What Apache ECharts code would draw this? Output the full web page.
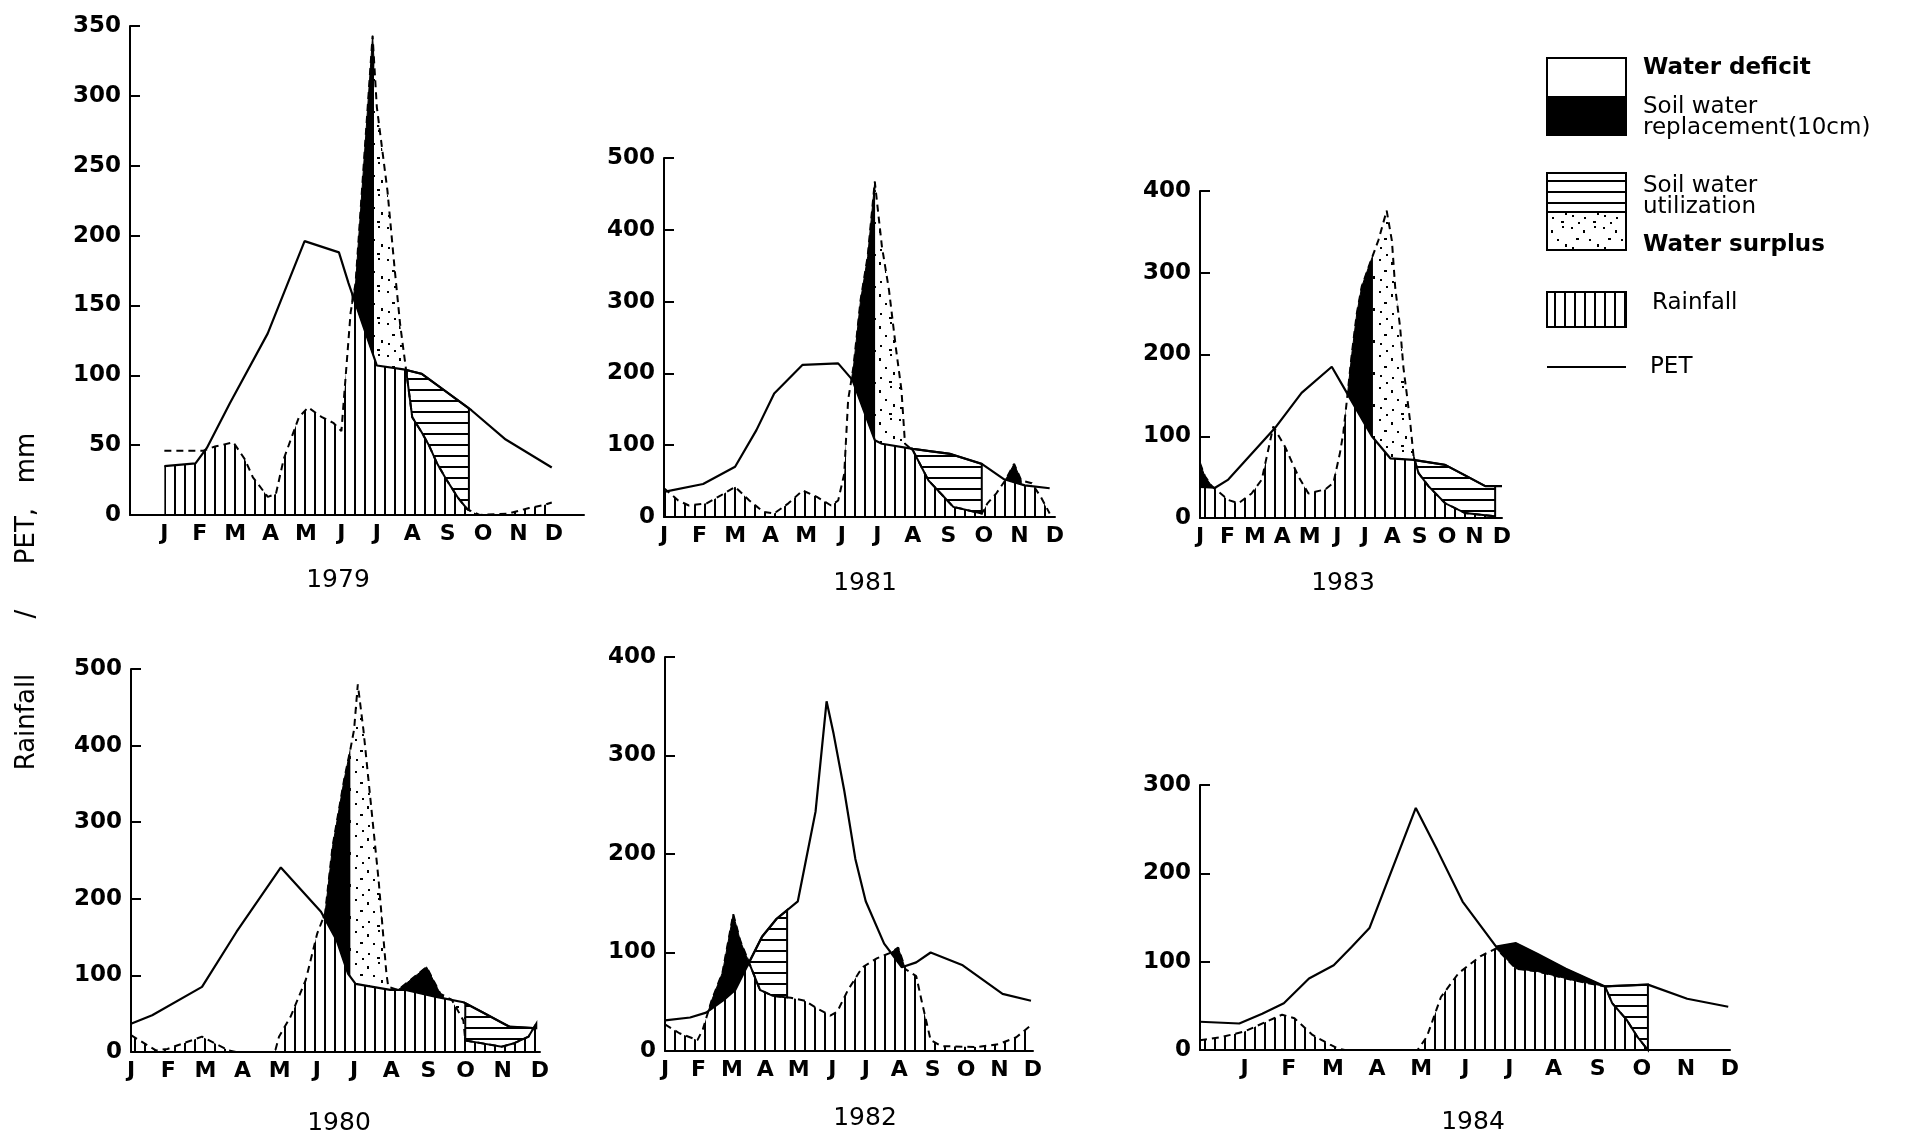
<!DOCTYPE html>
<html>
<head>
<meta charset="utf-8">
<script src="https://cdn.jsdelivr.net/npm/echarts@6/dist/echarts.min.js"></script>
<style>
  html, body { margin: 0; padding: 0; background: #fff; }
  #chart { width: 1920px; height: 1140px; }
</style>
</head>
<body>
<div id="chart"></div>
<script>
// Month tick labels (x = month index, J = 0 ... D = 11)
const monthLabels = ['J', 'F', 'M', 'A', 'M', 'J', 'J', 'A', 'S', 'O', 'N', 'D'];
const monthTicks = [0, 1, 2, 3, 4, 5, 6, 7, 8, 9, 10, 11];

// ---- 1979 ----
const pet1979 = [[0, 35], [0.88, 37], [1.2, 48], [1.85, 80], [2.92, 130], [3.96, 196], [4.93, 188], [5.2, 166], [6.0, 107], [6.8, 104], [7.27, 101], [8.67, 75], [9.64, 54], [10.94, 34]];
const rain1979 = [[0, 46], [1.1, 46], [1.43, 49], [1.95, 52], [2.27, 40], [2.5, 27], [2.92, 13], [3.15, 15], [3.37, 40], [3.8, 70], [4.06, 77], [4.45, 70], [4.77, 66], [5.0, 60], [5.26, 145], [5.4, 166], [5.88, 343], [6.0, 292], [6.3, 232], [6.5, 177], [6.66, 136], [6.82, 105], [7.0, 70], [7.27, 59], [7.47, 50], [7.7, 37], [7.95, 26], [8.3, 12], [8.56, 4], [8.9, 0], [9.7, 1], [10.3, 5], [10.7, 7], [10.94, 9]];
const phases1979 = [['replacement', 5.3, 5.92], ['surplus', 5.92, 6.85], ['utilization', 6.85, 8.6]];

// ---- 1981 ----
const pet1981 = [[0, 35], [1.1, 46], [2.0, 70], [2.6, 121], [3.1, 172], [3.9, 212], [4.9, 214], [5.3, 191], [5.93, 107], [6.13, 102], [7.0, 95], [8.04, 88], [8.94, 74], [9.55, 53], [10.15, 44], [10.85, 40]];
const rain1981 = [[0, 40], [0.4, 23], [0.7, 16], [1.2, 19], [1.6, 30], [2.0, 42], [2.4, 23], [2.8, 7], [3.1, 5], [3.5, 19], [3.9, 37], [4.3, 28], [4.7, 16], [4.9, 23], [5.07, 60], [5.18, 163], [5.33, 209], [5.53, 302], [5.73, 363], [5.93, 467], [6.13, 377], [6.33, 316], [6.53, 233], [6.68, 177], [6.78, 102], [7.0, 93], [7.44, 51], [7.84, 30], [8.14, 14], [8.94, 5], [9.1, 19], [9.35, 33], [9.6, 51], [9.85, 74], [10.05, 51], [10.35, 47], [10.6, 28], [10.85, 5]];
const phases1981 = [['replacement', 5.27, 5.94], ['surplus', 5.94, 6.8], ['utilization', 6.95, 8.94], ['replacement', 9.6, 10.05]];

// ---- 1983 ----
const pet1983 = [[0, 38], [0.55, 37], [1.03, 47], [2.73, 110], [3.7, 153], [4.8, 185], [5.35, 153], [6.26, 100], [6.93, 73], [7.78, 71], [8.93, 65], [10.39, 39], [11.0, 39]];
const rain1983 = [[0, 67], [0.18, 51], [0.43, 39], [1.03, 22], [1.4, 18], [1.88, 30], [2.25, 47], [2.67, 112], [3.1, 87], [3.58, 51], [3.95, 30], [4.56, 35], [4.86, 43], [5.1, 80], [5.22, 104], [5.35, 144], [5.53, 201], [5.71, 250], [5.89, 283], [6.14, 307], [6.5, 340], [6.8, 376], [6.99, 339], [7.11, 282], [7.29, 233], [7.41, 184], [7.53, 152], [7.65, 119], [7.78, 75], [7.96, 55], [8.32, 39], [8.93, 18], [9.66, 6], [10.75, 2]];
const phases1983 = [['replacement', 0, 0.43], ['replacement', 5.38, 6.3], ['surplus', 6.3, 7.8], ['utilization', 7.8, 10.75]];

// ---- 1980 ----
const pet1980 = [[0, 37], [0.57, 48], [1.91, 85], [2.84, 157], [4.03, 241], [5.11, 183], [5.53, 146], [5.84, 102], [6.04, 89], [6.97, 81], [7.39, 81], [8.21, 72], [8.94, 65], [9.45, 52], [10.18, 33], [10.9, 31]];
const rain1980 = [[0, 22], [0.67, 2], [0.98, 4], [1.91, 20], [2.63, 2], [2.84, 0], [3.87, 0], [3.98, 20], [4.29, 46], [4.7, 94], [5.01, 155], [5.22, 181], [5.42, 268], [5.73, 355], [5.9, 395], [6.0, 421], [6.1, 480], [6.25, 421], [6.46, 320], [6.66, 224], [6.87, 102], [6.92, 85], [7.18, 81], [7.95, 111], [8.32, 76], [8.63, 68], [8.94, 41], [8.99, 15], [9.97, 7], [10.28, 11], [10.69, 20], [10.9, 37]];
const phases1980 = [['replacement', 5.17, 5.9], ['surplus', 5.9, 6.92], ['replacement', 7.18, 8.4], ['surplus', 8.55, 8.99], ['utilization', 8.99, 10.9]];

// ---- 1982 ----
const pet1982 = [[0, 31], [0.75, 34], [1.23, 39], [1.8, 53], [2.1, 62], [2.47, 87], [2.9, 116], [3.33, 134], [3.97, 152], [4.18, 188], [4.5, 243], [4.83, 355], [5.04, 322], [5.36, 264], [5.69, 195], [6.0, 152], [6.55, 109], [7.08, 85], [7.51, 90], [7.94, 100], [8.9, 87], [10.09, 58], [10.94, 51]];
const rain1982 = [[0, 27], [0.43, 18], [0.97, 11], [1.13, 22], [1.39, 51], [1.72, 80], [2.04, 139], [2.25, 112], [2.52, 89], [2.84, 62], [3.22, 56], [3.76, 54], [4.18, 51], [4.61, 42], [4.94, 36], [5.15, 40], [5.47, 62], [5.9, 85], [6.33, 94], [6.76, 100], [6.97, 105], [7.19, 83], [7.51, 76], [7.67, 51], [7.94, 11], [8.26, 5], [9.33, 4], [9.98, 7], [10.5, 14], [10.9, 25]];
const phases1982 = [['replacement', 1.27, 2.5], ['utilization', 2.5, 3.65], ['replacement', 6.76, 7.15]];

// ---- 1984 ----
const pet1984 = [[-1.01, 32], [-0.12, 30], [0.4, 41], [0.89, 53], [1.46, 81], [2.02, 96], [2.43, 117], [2.83, 138], [3.88, 274], [4.37, 226], [4.94, 168], [5.7, 117], [6.15, 121], [6.63, 109], [7.28, 92], [8.17, 72], [9.14, 74], [10.03, 58], [10.96, 49]];
const rain1984 = [[-1.01, 11], [-0.49, 15], [0, 21], [0.49, 32], [0.85, 40], [1.13, 36], [1.54, 17], [1.94, 6], [2.1, 2], [2.27, 0], [3.92, 0], [4.13, 15], [4.45, 60], [4.85, 87], [5.34, 106], [5.7, 115], [6.15, 92], [6.63, 89], [7.44, 79], [8.17, 72], [8.33, 53], [8.66, 34], [8.9, 15], [9.06, 5], [9.14, 0]];
const phases1984 = [['replacement', 5.7, 8.17], ['utilization', 8.17, 9.14]];

// Axis scales per panel
const years = ['1979', '1981', '1983', '1980', '1982', '1984'];
const yMaxes = [350, 500, 400, 500, 400, 300];
const ySteps = [50, 100, 100, 100, 100, 100];

const seriesData = {
  '1979': { pet: pet1979, rain: rain1979, phases: phases1979 },
  '1981': { pet: pet1981, rain: rain1981, phases: phases1981 },
  '1983': { pet: pet1983, rain: rain1983, phases: phases1983 },
  '1980': { pet: pet1980, rain: rain1980, phases: phases1980 },
  '1982': { pet: pet1982, rain: rain1982, phases: phases1982 },
  '1984': { pet: pet1984, rain: rain1984, phases: phases1984 }
};

// Page layout of the six small panels
const layout = [
  { left: 130, top: 26, width: 454, height: 489, xMin: -0.97, xMax: 11.85, yearX: 338, yearY: 580 },
  { left: 664, top: 158, width: 391, height: 359, xMin: 0, xMax: 11, yearX: 865, yearY: 583 },
  { left: 1200, top: 191, width: 302, height: 327, xMin: 0, xMax: 11, yearX: 1343, yearY: 583 },
  { left: 131, top: 669, width: 409, height: 383, xMin: 0, xMax: 11, yearX: 339, yearY: 1123 },
  { left: 665, top: 657, width: 368, height: 394, xMin: 0, xMax: 11, yearX: 865, yearY: 1118 },
  { left: 1200, top: 785, width: 530, height: 265, xMin: -1.01, xMax: 11, yearX: 1473, yearY: 1122 }
];

// ---- fill textures ----
function tile(w, h, draw) {
  const c = document.createElement('canvas');
  c.width = w; c.height = h;
  const ctx = c.getContext('2d');
  ctx.fillStyle = '#fff';
  ctx.fillRect(0, 0, w, h);
  ctx.fillStyle = '#000';
  draw(ctx);
  return { image: c, repeat: 'repeat' };
}
const vHatch = tile(10, 10, ctx => ctx.fillRect(4, 0, 2, 10));
const hHatch = tile(10, 11, ctx => ctx.fillRect(0, 4, 10, 2));
const dotted = tile(32, 32, ctx => {
  [[3, 3, 2, 2], [15, 6, 2, 3], [26, 2, 2, 2], [8, 14, 3, 2], [21, 15, 2, 2], [29, 20, 2, 3],
   [4, 23, 2, 2], [16, 25, 2, 2], [25, 29, 3, 2], [10, 30, 2, 2]].forEach(d => ctx.fillRect(d[0], d[1], d[2], d[3]));
});

const phaseStyle = {
  rainfall: { fill: vHatch, lineWidth: 0 },
  replacement: { fill: '#000', stroke: '#000', lineWidth: 1 },
  surplus: { fill: dotted, lineWidth: 0 },
  utilization: { fill: hHatch, stroke: '#000', lineWidth: 2 }
};

// ---- geometry helpers ----
function valueAt(curve, x) {
  if (x <= curve[0][0]) return curve[0][1];
  for (let i = 1; i < curve.length; i++) {
    if (x <= curve[i][0]) {
      const xa = curve[i - 1][0], ya = curve[i - 1][1], xb = curve[i][0], yb = curve[i][1];
      return xb === xa ? yb : ya + (yb - ya) * (x - xa) / (xb - xa);
    }
  }
  return curve[curve.length - 1][1];
}
function sampleXs(a, b, x0, x1) {
  const xs = [x0, x1];
  a.concat(b).forEach(p => { if (p[0] > x0 && p[0] < x1) xs.push(p[0]); });
  xs.sort((u, v) => u - v);
  const out = [xs[0]];
  for (let i = 1; i < xs.length; i++) {
    const u = xs[i - 1], v = xs[i];
    const du = valueAt(a, u) - valueAt(b, u), dv = valueAt(a, v) - valueAt(b, v);
    if (du * dv < 0) out.push(u + (v - u) * du / (du - dv));
    out.push(v);
  }
  return out;
}

const series = [];
const xAxes = [], yAxes = [], grids = [], graphics = [];
const labelFont = { color: '#000', fontFamily: 'DejaVu Sans', fontWeight: 'bold' };

years.forEach((yr, i) => {
  const d = seriesData[yr];
  const L = layout[i];
  grids.push({ left: L.left, top: L.top, width: L.width, height: L.height, containLabel: false });
  xAxes.push({
    type: 'value', gridIndex: i, min: L.xMin, max: L.xMax, z: 6,
    axisLine: { onZero: false, lineStyle: { color: '#000', width: 2 } },
    axisTick: { show: false },
    splitLine: { show: false },
    axisLabel: Object.assign({ customValues: monthTicks, margin: 8, fontSize: 22,
      formatter: v => monthLabels[Math.round(v)] }, labelFont)
  });
  yAxes.push({
    type: 'value', gridIndex: i, min: 0, max: yMaxes[i], interval: ySteps[i], z: 6,
    axisLine: { show: true, onZero: false, lineStyle: { color: '#000', width: 2 } },
    axisTick: { show: true, inside: true, length: 10, lineStyle: { color: '#000', width: 2 } },
    splitLine: { show: false },
    axisLabel: Object.assign({ margin: 9, fontSize: 23 }, labelFont)
  });

  const regions = [{ kind: 'rainfall', x0: d.rain[0][0], x1: d.rain[d.rain.length - 1][0] }]
    .concat(d.phases.map(p => ({ kind: p[0], x0: p[1], x1: p[2] })));

  series.push({
    type: 'custom', name: 'phases ' + yr, xAxisIndex: i, yAxisIndex: i, z: 2, silent: true,
    data: regions.map(r => [r.x0, r.x1]),
    renderItem: (params, api) => {
      const r = regions[params.dataIndex];
      const xs = sampleXs(d.rain, d.pet, r.x0, r.x1);
      let pts;
      if (r.kind === 'rainfall') {
        pts = xs.map(x => api.coord([x, Math.min(valueAt(d.rain, x), valueAt(d.pet, x))]));
        pts.push(api.coord([r.x1, 0]), api.coord([r.x0, 0]));
      } else {
        pts = xs.map(x => api.coord([x, valueAt(d.rain, x)]))
          .concat(xs.slice().reverse().map(x => api.coord([x, valueAt(d.pet, x)])));
      }
      return { type: 'polygon', shape: { points: pts }, style: Object.assign({}, phaseStyle[r.kind]) };
    }
  });
  series.push({
    type: 'line', name: 'Rainfall ' + yr, xAxisIndex: i, yAxisIndex: i, z: 3,
    data: d.rain, showSymbol: false, silent: true,
    lineStyle: { color: '#000', width: 2, type: [7, 5] }
  });
  series.push({
    type: 'line', name: 'PET ' + yr, xAxisIndex: i, yAxisIndex: i, z: 4,
    data: d.pet, showSymbol: false, silent: true,
    lineStyle: { color: '#000', width: 2.2 }
  });

  graphics.push({
    type: 'text', x: L.yearX, y: L.yearY,
    style: { text: yr, font: '25px "DejaVu Sans"', fill: '#000', textAlign: 'center', textVerticalAlign: 'middle' }
  });
});

// Shared axis title, set in spaced-out pieces along the left edge
function titlePiece(y, text) {
  return { type: 'text', x: 27, y: y, rotation: Math.PI / 2,
    style: { text: text, font: '26px "DejaVu Sans"', fill: '#000', textAlign: 'center', textVerticalAlign: 'middle' } };
}
graphics.push(titlePiece(722, 'Rainfall'), titlePiece(614, '/'), titlePiece(536, 'PET,'), titlePiece(458, 'mm'));

// Key
const kx = 1547, kw = 79;
function keyText(x, y, text, bold) {
  return { type: 'text', x: x, y: y,
    style: { text: text, font: (bold ? 'bold ' : '') + '23px "DejaVu Sans"', fill: '#000', textAlign: 'left', textVerticalAlign: 'middle' } };
}
graphics.push(
  { type: 'rect', shape: { x: kx, y: 58, width: kw, height: 39 }, style: { fill: '#fff', stroke: '#000', lineWidth: 2 } },
  { type: 'rect', shape: { x: kx, y: 97, width: kw, height: 38 }, style: { fill: '#000', stroke: '#000', lineWidth: 2 } },
  { type: 'rect', shape: { x: kx, y: 173, width: kw, height: 39 }, style: { fill: hHatch, stroke: '#000', lineWidth: 2 } },
  { type: 'rect', shape: { x: kx, y: 212, width: kw, height: 38 }, style: { fill: dotted, stroke: '#000', lineWidth: 2 } },
  { type: 'rect', shape: { x: kx, y: 292, width: kw, height: 35 }, style: { fill: vHatch, stroke: '#000', lineWidth: 2 } },
  { type: 'line', shape: { x1: kx, y1: 367, x2: kx + kw, y2: 367 }, style: { stroke: '#000', lineWidth: 2 } },
  keyText(1643, 68, 'Water deficit', true),
  keyText(1643, 107, 'Soil water', false),
  keyText(1643, 128, 'replacement(10cm)', false),
  keyText(1643, 186, 'Soil water', false),
  keyText(1643, 207, 'utilization', false),
  keyText(1643, 245, 'Water surplus', true),
  keyText(1652, 303, 'Rainfall', false),
  keyText(1650, 367, 'PET', false)
);

const chart = echarts.init(document.getElementById('chart'), null, { renderer: 'canvas' });
chart.setOption({
  backgroundColor: '#fff',
  animation: false,
  grid: grids,
  xAxis: xAxes,
  yAxis: yAxes,
  series: series,
  graphic: graphics
});
</script>
</body>
</html>
